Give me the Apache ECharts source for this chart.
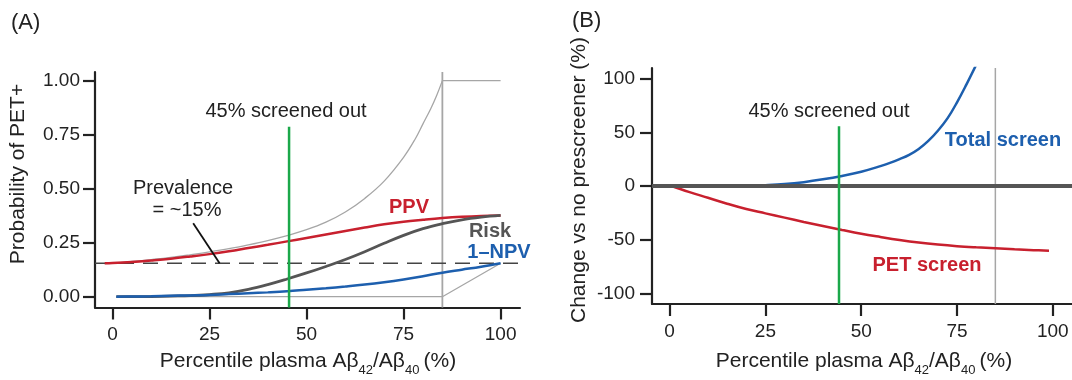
<!DOCTYPE html>
<html><head><meta charset="utf-8">
<script src="https://cdn.jsdelivr.net/npm/echarts@6/dist/echarts.min.js"></script>
<style>html,body{margin:0;padding:0;background:#fff}#c{width:1072px;height:380px}</style>
</head><body><div id="c"></div>
<script>
// ---- tick labels ----
const xTicks = [0, 25, 50, 75, 100];
const yTicksA = [0, 0.25, 0.5, 0.75, 1];
const yTicksB = [-100, -50, 0, 50, 100];

// ---- panel A data: [percentile, probability] ----
const upperBound = [[-2,0.153],[0,0.155],[5,0.163],[10,0.172],[15,0.182],[20,0.194],[25,0.207],[30,0.222],[35,0.24],[40,0.26],[45,0.283],[50,0.31],[55,0.345],[60,0.392],[65,0.455],[70,0.535],[75,0.645],[78,0.73],[80,0.8],[82,0.87],[83.5,0.93],[85,1.0]];
const upperFlat = [[85,1],[100,1]];
const lowerBound = [[1,0],[85,0],[100,0.155]];
const ppv = [[-2,0.155],[0,0.156],[5,0.161],[10,0.168],[15,0.176],[20,0.186],[25,0.197],[30,0.21],[35,0.225],[40,0.24],[45,0.256],[50,0.272],[55,0.288],[60,0.304],[65,0.32],[70,0.335],[75,0.347],[80,0.356],[85,0.364],[90,0.37],[95,0.374],[100,0.376]];
const risk = [[1,0],[5,0],[10,0.001],[15,0.003],[20,0.005],[25,0.01],[30,0.018],[35,0.034],[40,0.056],[45,0.082],[50,0.11],[55,0.14],[60,0.172],[65,0.208],[70,0.247],[75,0.284],[80,0.315],[85,0.338],[90,0.356],[95,0.368],[100,0.376]];
const npv1 = [[1,0],[5,0.001],[10,0.002],[15,0.004],[20,0.006],[25,0.008],[30,0.012],[35,0.016],[40,0.02],[45,0.025],[50,0.032],[55,0.039],[60,0.047],[65,0.056],[70,0.067],[75,0.08],[80,0.095],[85,0.111],[90,0.125],[95,0.139],[100,0.155]];
const prevalence = 0.155;
const cutA = 45.5, cutTopA = 0.787;
const maxPct = 85;
const leaderA = [[20.8,0.34],[27.6,0.155]];

// ---- panel B data: [percentile, change %] ----
const totalScreen = [[0.5,0],[5,0],[10,0],[15,0],[20,0.2],[25,0.8],[30,1.8],[35,3.6],[40,6.2],[45,9.4],[50,13.3],[55,18.5],[57.5,21.5],[60,25],[62.5,29],[65,34.5],[67.5,42],[70,51.5],[72.5,63],[75,78],[77.5,95],[80,113]];
const petScreen = [[0.5,0],[5,-5.5],[10,-11],[15,-16.5],[20,-21.5],[25,-25.5],[30,-29.5],[35,-33.5],[40,-37.3],[45,-41],[50,-44.5],[55,-47.5],[60,-50.3],[65,-52.7],[70,-54.6],[75,-56.1],[80,-57.2],[85,-58.1],[90,-59],[95,-59.8],[99,-60.4]];
const cutB = 44.2, cutTopB = 55.8;

// ---- styles ----
const F = '"Liberation Sans", Arial, Helvetica, sans-serif';
const AX = '#222';
const RED = '#c8202e', BLUE = '#1d5fae', GREEN = '#1ba84a', DGRAY = '#555555', LGRAY = '#a6a6a6';

function xAx(gi, min, max) {
  return { type:'value', gridIndex:gi, min:min, max:max,
    axisLine:{show:true,onZero:false,lineStyle:{color:AX,width:2.2}},
    axisTick:{show:true,customValues:xTicks,length:12,lineStyle:{color:AX,width:2.2}},
    axisLabel:{customValues:xTicks,margin:18,fontSize:19,color:'#222',fontFamily:F},
    splitLine:{show:false} };
}
function yAx(gi, min, max, ticks, margin, fmt) {
  return { type:'value', gridIndex:gi, min:min, max:max,
    axisLine:{show:true,onZero:false,lineStyle:{color:AX,width:2.2}},
    axisTick:{show:true,customValues:ticks,length:12,lineStyle:{color:AX,width:2.2}},
    axisLabel:{customValues:ticks,margin:margin,fontSize:19,color:'#222',fontFamily:F,formatter:fmt},
    splitLine:{show:false} };
}
function ln(gi, data, color, width, extra) {
  return Object.assign({ type:'line', xAxisIndex:gi, yAxisIndex:gi, data:data, symbol:'none', silent:true,
    lineStyle:{color:color,width:width}, z:2 }, extra || {});
}
function txt(x, y, s, opts) {
  opts = opts || {};
  return { type:'text', x:x, y:y, rotation:opts.rot || 0, silent:true, z:50,
    style:{ text:s, fill:opts.color || '#222', font:(opts.weight||'normal')+' '+(opts.size||20)+'px '+F,
      textAlign:opts.align || 'center', textVerticalAlign:'middle', rich:opts.rich } };
}
const subRich = {
  a:{fontSize:21,fontFamily:F,fill:'#222',color:'#222',lineHeight:26,verticalAlign:'top'},
  s:{fontSize:13,fontFamily:F,fill:'#222',color:'#222',lineHeight:12,verticalAlign:'bottom'}
};
const xTitle = '{a|Percentile plasma Aβ}{s|42}{a|/Aβ}{s|40}{a|\u2009(%)}';
const SM = {smooth:0.4, z:3};

const option = {
  animation:false,
  backgroundColor:'#fff',
  grid:[
    {left:95, top:72, width:425, height:235.5},
    {left:652, top:68, width:420, height:236}
  ],
  xAxis:[ xAx(0,-4.5,105), xAx(1,-4.6,105) ],
  yAxis:[
    yAx(0,-0.05,1.04,yTicksA,15,function(v){return v.toFixed(2);}),
    yAx(1,-110,110,yTicksB,17,function(v){return String(v);})
  ],
  series:[
    ln(0, upperBound, LGRAY, 1.3, {smooth:0.4, z:2}),
    ln(0, upperFlat, LGRAY, 1.3),
    ln(0, lowerBound, LGRAY, 1.3),
    ln(0, [[maxPct,-0.05],[maxPct,1.04]], LGRAY, 1.8),
    ln(0, [[-4.5,prevalence],[105,prevalence]], '#444', 1.5, {lineStyle:{color:'#444',width:1.5,type:[15,9]}}),
    ln(0, ppv, RED, 2.5, SM),
    ln(0, risk, DGRAY, 2.8, SM),
    ln(0, npv1, BLUE, 2.5, SM),
    ln(0, [[cutA,-0.05],[cutA,cutTopA]], GREEN, 2.5, {z:4}),
    ln(0, leaderA, '#111', 1.8, {z:4}),

    ln(1, [[maxPct,-110],[maxPct,110]], LGRAY, 1.5),
    ln(1, totalScreen, BLUE, 2.5, SM),
    ln(1, petScreen, RED, 2.5, SM),
    ln(1, [[-4.6,0],[105,0]], DGRAY, 3.8, {z:4}),
    ln(1, [[cutB,-110],[cutB,cutTopB]], GREEN, 2.5, {z:5})
  ],
  graphic:[
    txt(11, 23, '(A)', {size:22, align:'left'}),
    txt(572, 21, '(B)', {size:22, align:'left'}),
    txt(18, 174, 'Probability of PET+', {size:21, rot:Math.PI/2}),
    txt(579, 180, 'Change vs no prescreener (%)', {size:21, rot:Math.PI/2}),
    txt(308, 364, xTitle, {rich:subRich}),
    txt(864, 364, xTitle, {rich:subRich}),
    txt(286, 111, '45% screened out', {size:20}),
    txt(829, 111, '45% screened out', {size:20}),
    txt(183, 188, 'Prevalence', {size:20}),
    txt(187, 210, '= ~15%', {size:20}),
    txt(409, 207, 'PPV', {size:20, weight:'bold', color:RED}),
    txt(490, 231, 'Risk', {size:20, weight:'bold', color:DGRAY}),
    txt(499, 252, '1–NPV', {size:20, weight:'bold', color:BLUE}),
    txt(1003, 140, 'Total screen', {size:20, weight:'bold', color:BLUE}),
    txt(927, 265, 'PET screen', {size:20, weight:'bold', color:RED})
  ]
};
const chart = echarts.init(document.getElementById('c'), null, {renderer:'canvas'});
chart.setOption(option);
</script></body></html>
